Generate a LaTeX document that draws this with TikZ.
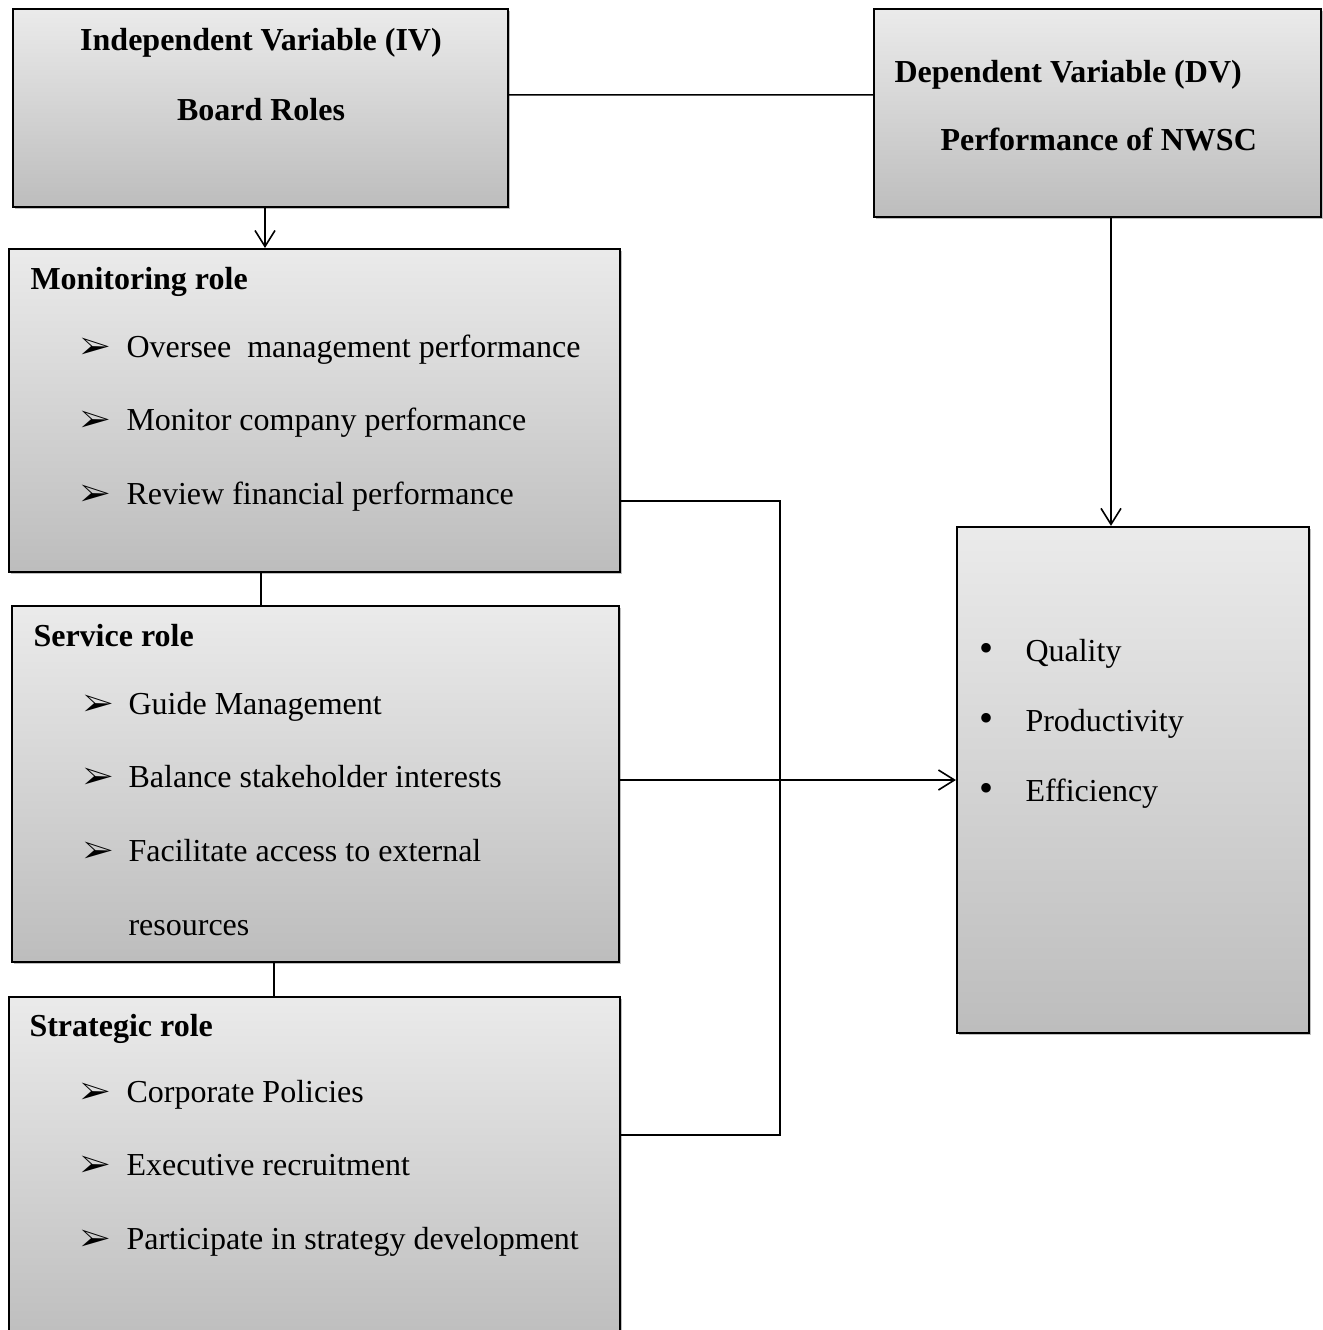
\documentclass[tikz,border=0pt,12pt]{standalone}
\usepackage{fontspec}
\usepackage{pifont}
\setmainfont{Liberation Serif}
\usetikzlibrary{arrows.meta,calc,shadows}

\newcommand{\rolemark}{\ding{226}}
\newcommand{\dvmark}{{\fontsize{15}{15}\selectfont\textbullet}}

\begin{document}
\begin{tikzpicture}[
		x=0.375pt,
		y=-0.375pt,
		font=\fontsize{12}{14}\selectfont,
		box/.style={
			rectangle,
			draw,
			line width=0.8pt,
			inner sep=0pt,
			top color=black!8,
			bottom color=black!26,
			drop shadow={shadow xshift=0.9pt, shadow yshift=-0.9pt, opacity=0.5}
		},
		head/.style={
			anchor=base west,
			inner sep=0pt,
			font=\bfseries
		},
		item/.style={
			anchor=base west,
			inner sep=0pt
		},
		link/.style={
			line width=0.6pt
		},
		arrow/.style={
			line width=0.6pt,
			-{Straight Barb[length=6pt,width=7.5pt]}
		}
		]
		
		\clip (0,0) rectangle (1323,1330);
		
		% boxes
		\node[box, minimum width=185.6pt, minimum height=74.3pt] (iv) at (260.5,108) {};
		\node[box, minimum width=167.6pt, minimum height=78pt] (dv) at (1097.5,113) {};
		\node[box, minimum width=229.1pt, minimum height=121.1pt] (mon) at (314.5,410.5) {};
		\node[box, minimum width=227.6pt, minimum height=133.5pt] (ser) at (315.5,784) {};
		\node[box, minimum width=229.1pt, minimum height=131.3pt] (str) at (314.5,1172) {};
		\node[box, minimum width=132pt, minimum height=189.8pt] (res) at (1133,780) {};
		
		% headings
		\node[head, anchor=base] (ivtitle) at (261,50) {Independent Variable (IV)};
		\node[head, anchor=base] (ivname) at (261,120) {Board Roles};
		\node[head] (dvtitle) at (894,82) {Dependent Variable (DV)};
		\node[head] (dvname) at (940,150) {Performance of NWSC};
		\node[head] (monhead) at (30,289) {Monitoring role};
		\node[head] (serhead) at (33,646) {Service role};
		\node[head] (strhead) at (29,1036) {Strategic role};
		
		% items
		\foreach \txt [count=\i] in {Oversee\ \ management performance, Monitor company performance, Review financial performance}
		\node[item] (mon-\i) at (80,357+73.5*\i-73.5) {\makebox[17.25pt][l]{\rolemark}\txt};
		
		\foreach \txt [count=\i] in {Guide Management, Balance stakeholder interests, Facilitate access to external}
		\node[item] (ser-\i) at (83,714+73.5*\i-73.5) {\makebox[16.9pt][l]{\rolemark}\txt};
		\node[item] (ser-4) at (128,935) {resources};
		
		\foreach \txt [count=\i] in {Corporate Policies, Executive recruitment, Participate in strategy development}
		\node[item] (str-\i) at (80,1102+73.5*\i-73.5) {\makebox[17.25pt][l]{\rolemark}\txt};
		
		\foreach \txt [count=\i] in {Quality, Productivity, Efficiency}
		\node[item] (res-\i) at (979,661+70*\i-70) {\makebox[17.25pt][l]{\dvmark}\txt};
		
		% connectors
		\coordinate (ivout) at (265,0);
		\coordinate (monlink) at (261,0);
		\coordinate (serlink) at (274,0);
		\coordinate (dvout) at (1111,0);
		\coordinate (bus) at (780,0);
		\coordinate (monout) at ($(mon.north east)+(0,253)$);
		\coordinate (strout) at ($(str.north east)+(0,139)$);
		
		\draw[link] ($(iv.north east)+(0,87)$) -- ($(dv.north west)+(0,87)$);
		\draw[arrow] (ivout |- iv.south) -- (ivout |- mon.north);
		\draw[link] (monlink |- mon.south) -- (monlink |- ser.north);
		\draw[link] (serlink |- ser.south) -- (serlink |- str.north);
		\draw[arrow] (dvout |- dv.south) -- (dvout |- res.north);
		\draw[link] (monout) -| (bus |- strout) -- (strout);
		\draw[arrow] (ser.east |- res.west) -- (res.west);
		
	\end{tikzpicture}
\end{document}
